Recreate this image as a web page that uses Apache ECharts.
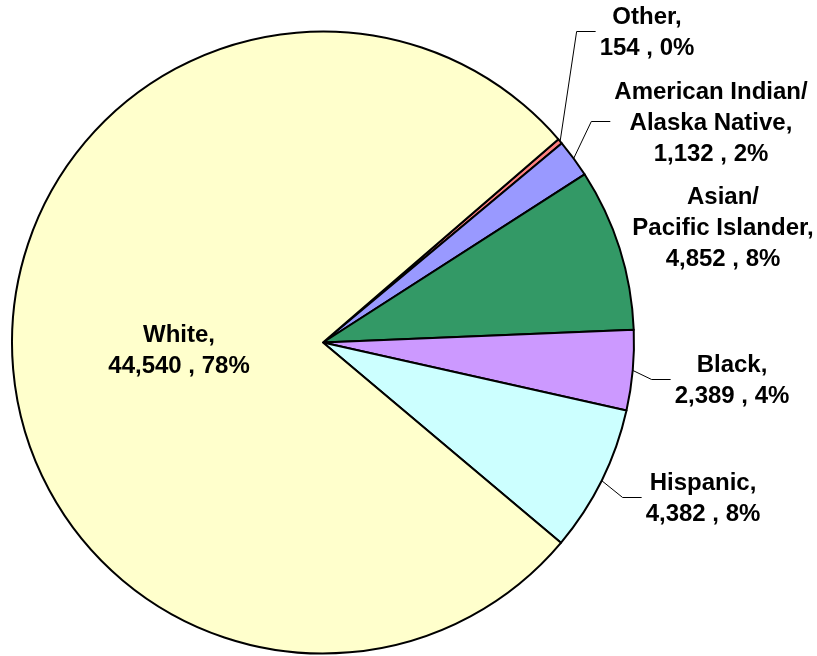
<!DOCTYPE html>
<html>
<head>
<meta charset="utf-8">
<script src="https://cdn.jsdelivr.net/npm/echarts@6/dist/echarts.min.js"></script>
<style>
  html, body { margin: 0; padding: 0; background: #fff; }
  #chart { width: 817px; height: 656px; }
</style>
</head>
<body>
<div id="chart"></div>
<script>
// data
var groups = ['Other', 'American Indian/\nAlaska Native', 'Asian/\nPacific Islander', 'Black', 'Hispanic', 'White'];
var counts = [154, 1132, 4852, 2389, 4382, 44540];
var sliceColors = ['#ff8080', '#9999ff', '#339966', '#cc99ff', '#ccffff', '#ffffcc'];

// where each label sits (centre of the text block)
var labelSpots = [
  { x: 647, y: 33, line: true },
  { x: 711, y: 123, line: true },
  { x: 723, y: 228, line: false },
  { x: 732, y: 381, line: true },
  { x: 703, y: 499, line: true },
  { x: 179, y: 351, line: false }
];

var total = counts.reduce(function (a, b) { return a + b; }, 0);

var chart = echarts.init(document.getElementById('chart'));

var pieData = groups.map(function (g, i) {
  return {
    name: g,
    value: counts[i],
    itemStyle: { color: sliceColors[i] },
    label: { position: i === 5 ? 'inside' : 'outside' },
    labelLine: { show: labelSpots[i].line }
  };
});

chart.setOption({
  animation: false,
  series: [{
    type: 'pie',
    center: [323, 342.5],
    radius: 311,
    startAngle: 40.8,
    clockwise: true,
    avoidLabelOverlap: false,
    data: pieData,
    itemStyle: { borderColor: '#000', borderWidth: 2 },
    emphasis: { disabled: true },
    label: {
      show: true,
      color: '#000',
      fontFamily: 'Liberation Sans, Arial, sans-serif',
      fontWeight: 'bold',
      fontSize: 24,
      lineHeight: 31,
      align: 'center',
      formatter: function (p) {
        var pct = Math.round(p.value / total * 100);
        return p.name + ',\n' + p.value.toLocaleString('en-US') + ' , ' + pct + '%';
      }
    },
    labelLine: {
      length: 20,
      length2: 20,
      lineStyle: { color: '#000', width: 1 }
    },
    labelLayout: function (params) {
      var spot = labelSpots[params.dataIndex];
      var out = { x: spot.x, y: spot.y, align: 'center', verticalAlign: 'middle' };
      if (spot.line && params.labelLinePoints) {
        var anchor = params.labelLinePoints[0];
        var endX = spot.x - params.labelRect.width / 2 - 4;
        var endY = spot.y - 1.5;
        out.labelLinePoints = [anchor, [endX - 19, endY], [endX, endY]];
      }
      return out;
    }
  }]
});
</script>
</body>
</html>
